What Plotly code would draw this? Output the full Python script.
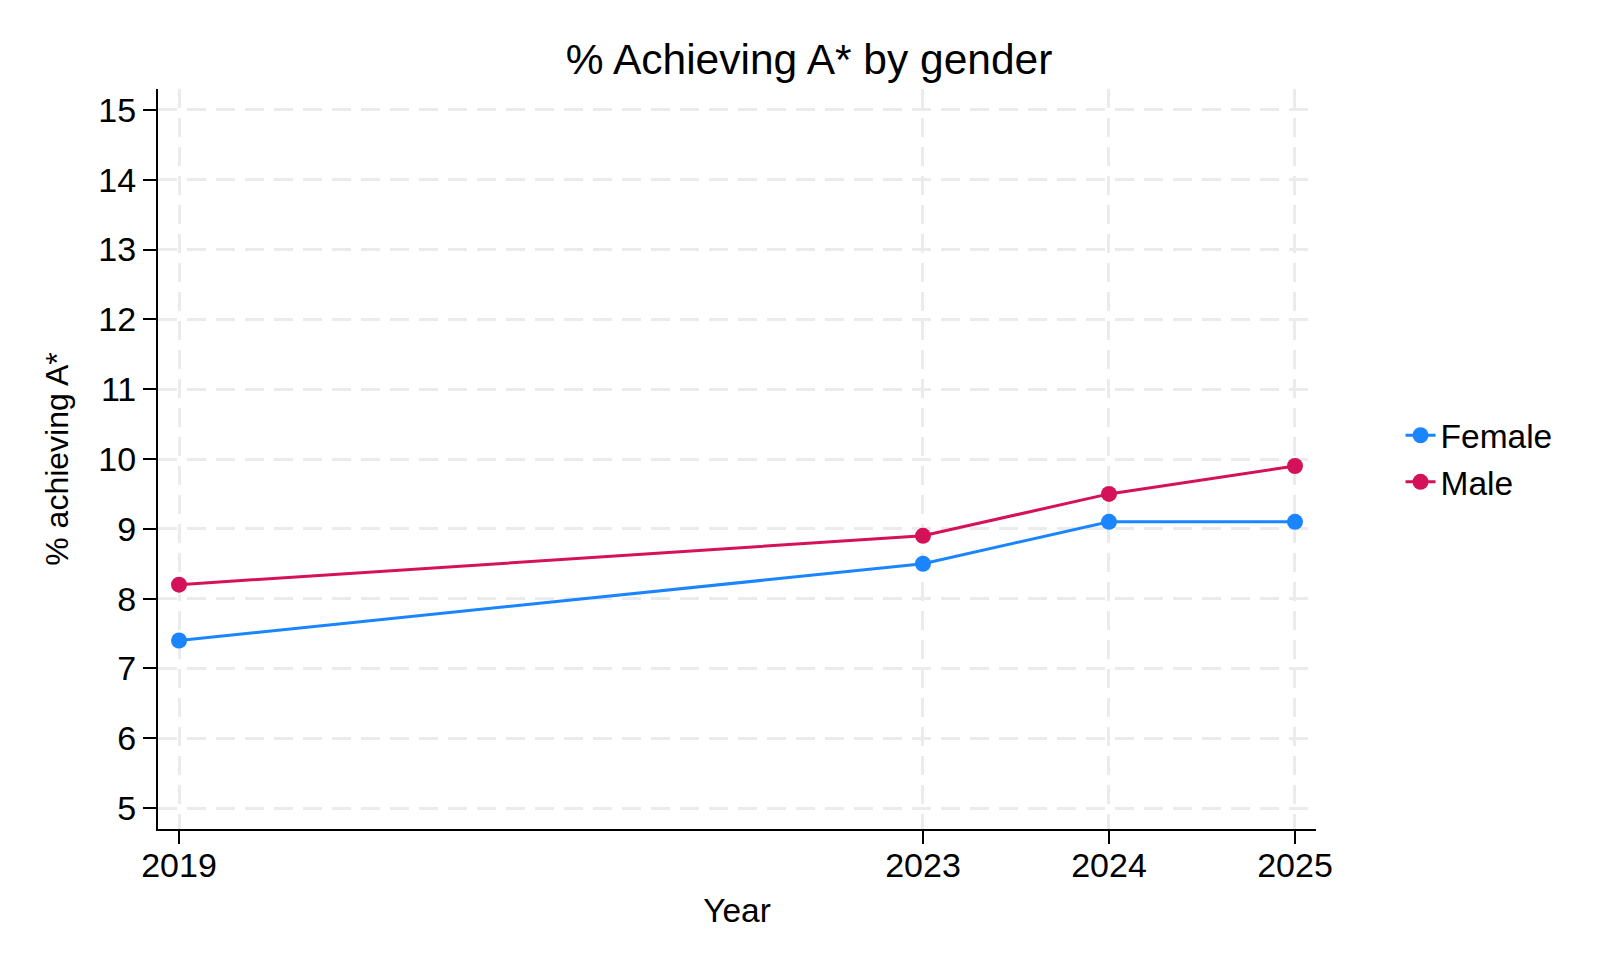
import plotly.graph_objects as go

years = [2019, 2023, 2024, 2025]
female = [7.4, 8.5, 9.1, 9.1]
male = [8.2, 8.9, 9.5, 9.9]
y_ticks = list(range(5, 16))

FONT = "Liberation Sans, Arial, Helvetica, sans-serif"
BLUE = "#1A85FF"
RED = "#D41159"
GRID = "#EBEBEB"

W, H = 1612, 964

fig = go.Figure()
fig.add_trace(go.Scatter(x=years, y=female, name="Female", mode="lines+markers",
                         line=dict(color=BLUE, width=3), marker=dict(color=BLUE, size=16)))
fig.add_trace(go.Scatter(x=years, y=male, name="Male", mode="lines+markers",
                         line=dict(color=RED, width=3), marker=dict(color=RED, size=16)))

fig.update_layout(
    width=W, height=H,
    paper_bgcolor="white", plot_bgcolor="white",
    font=dict(family=FONT, size=33.5, color="black"),
    margin=dict(l=150, r=304, t=81, b=143, autoexpand=False),
    title=dict(text="% Achieving A* by gender", x=801 / W, xanchor="center",
               y=1 - 51 / H, yanchor="middle", font=dict(size=42.5, color="black")),
    legend=dict(x=1.073, xanchor="left", y=0.5, yanchor="middle",
                font=dict(size=33.5), bgcolor="rgba(0,0,0,0)", tracegroupgap=0),
    showlegend=True,
)
fig.update_xaxes(
    range=[2018.887, 2025.113], tickvals=years, ticktext=[str(y) for y in years],
    showline=True, linecolor="black", linewidth=2,
    ticks="outside", ticklen=13, tickwidth=2, tickcolor="black",
    tickfont=dict(size=34), ticklabelstandoff=-8,
    showgrid=True, gridcolor=GRID, gridwidth=3, griddash="19px,10px",
    zeroline=False, automargin=False,
    title=dict(text="Year", standoff=16, font=dict(size=33.5)),
)
fig.update_yaxes(
    range=[4.7, 15.3], tickvals=y_ticks,
    showline=True, linecolor="black", linewidth=2,
    ticks="outside", ticklen=13, tickwidth=2, tickcolor="black",
    tickfont=dict(size=34),
    showgrid=True, gridcolor=GRID, gridwidth=3, griddash="19px,10px",
    zeroline=False, automargin=False,
    title=dict(text="% achieving A*", standoff=20, font=dict(size=32)),
)

fig.write_html("out.html")
